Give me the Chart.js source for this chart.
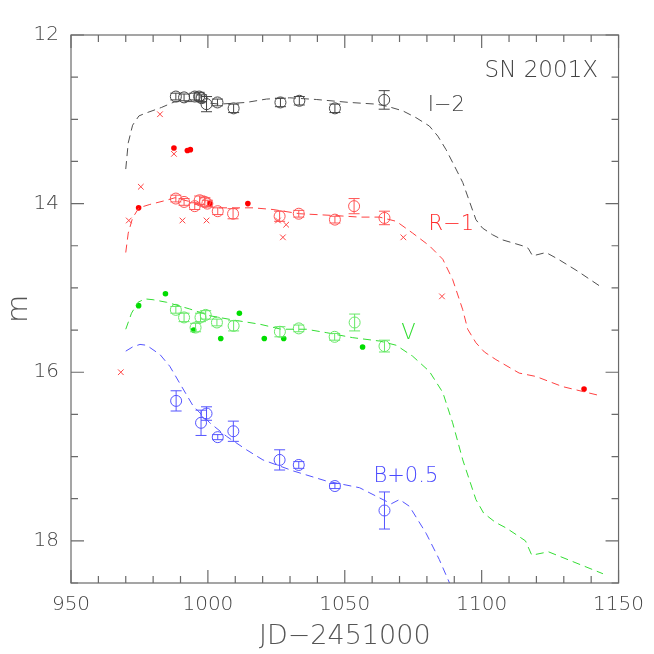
<!DOCTYPE html>
<html lang="en">
<head>
<meta charset="UTF-8">
<title>SN 2001X light curves</title>
<script src="https://cdn.jsdelivr.net/npm/chart.js"></script>
<style>
  body { margin: 0; background: #fff; }
</style>
</head>
<body>
<canvas id="lc" width="654" height="654"></canvas>
<script>
// axis ticks
const xTicks = [950, 1000, 1050, 1100, 1150];
const yTicks = [12, 14, 16, 18];

// I band (I-2), open circles with errors
const iJd  = [988.3, 991.3, 995.2, 996.8, 997.7, 999.5, 1003.5, 1009.4, 1026.5, 1033.4, 1046.4, 1064.4];
const iMag = [12.73, 12.74, 12.73, 12.73, 12.75, 12.82, 12.80, 12.87, 12.80, 12.78, 12.87, 12.77];
const iErr = [0.04, 0.04, 0.04, 0.05, 0.04, 0.09, 0.04, 0.05, 0.05, 0.05, 0.05, 0.11];

// R band (R-1)
const rJd  = [988.3, 991.3, 995.2, 997.0, 998.9, 999.8, 1003.6, 1009.2, 1026.2, 1033.2, 1046.4, 1053.4, 1064.5];
const rMag = [13.94, 13.98, 14.03, 13.96, 13.98, 14.00, 14.09, 14.12, 14.15, 14.12, 14.19, 14.03, 14.17];
const rErr = [0.04, 0.04, 0.04, 0.05, 0.05, 0.04, 0.04, 0.06, 0.06, 0.04, 0.04, 0.09, 0.08];
const rDotJd  = [974.7, 987.6, 992.5, 993.6, 1000.7, 1014.6, 1137.4];
const rDotMag = [14.05, 13.34, 13.37, 13.36, 14.00, 14.00, 16.20];
const rCrossJd  = [968.2, 971.1, 975.5, 982.5, 987.6, 990.7, 999.5, 1025.6, 1027.4, 1028.6, 1071.4, 1085.5];
const rCrossMag = [16.00, 14.20, 13.80, 12.94, 13.41, 14.20, 14.20, 14.20, 14.40, 14.25, 14.40, 15.10];

// V band
const vJd  = [988.3, 991.3, 995.5, 997.3, 999.2, 1003.3, 1009.4, 1026.3, 1033.2, 1046.3, 1053.6, 1064.5];
const vMag = [15.26, 15.35, 15.47, 15.35, 15.32, 15.41, 15.45, 15.52, 15.48, 15.58, 15.41, 15.69];
const vErr = [0.04, 0.05, 0.05, 0.05, 0.05, 0.04, 0.06, 0.06, 0.04, 0.04, 0.10, 0.07];
const vDotJd  = [974.7, 984.5, 994.8, 1004.7, 1011.5, 1020.6, 1027.7, 1056.5];
const vDotMag = [15.21, 15.07, 15.50, 15.60, 15.30, 15.60, 15.60, 15.70];

// B band (B+0.5)
const bJd  = [988.4, 997.5, 999.5, 1003.6, 1009.3, 1026.2, 1033.2, 1046.4, 1064.5];
const bMag = [16.34, 16.60, 16.49, 16.77, 16.70, 17.04, 17.10, 17.35, 17.64];
const bErr = [0.12, 0.15, 0.08, 0.03, 0.12, 0.12, 0.04, 0.03, 0.22];

// template curves (dashed)
const iCurveJd  = [970, 970.9, 972.5, 974.8, 977, 979.6, 983, 988, 995, 1004.3, 1014, 1021.4, 1029.9, 1039.6, 1051.7, 1061.5, 1066, 1071.2, 1076, 1080.9, 1084, 1087, 1090, 1093.1, 1095.5, 1097.9, 1100.3, 1104, 1107.6, 1114.9, 1117, 1118.6, 1123.5, 1128, 1135, 1143.7];
const iCurveMag = [13.59, 13.28, 13.07, 12.96, 12.93, 12.90, 12.86, 12.79, 12.79, 12.82, 12.80, 12.76, 12.745, 12.765, 12.80, 12.82, 12.85, 12.90, 12.98, 13.08, 13.20, 13.36, 13.55, 13.75, 13.97, 14.19, 14.29, 14.37, 14.43, 14.50, 14.53, 14.62, 14.58, 14.66, 14.80, 14.99];
const rCurveJd  = [970, 970.9, 972.5, 974.8, 978.8, 984.9, 988, 995, 1003.1, 1016.5, 1023.8, 1033.5, 1045.5, 1055.4, 1062.7, 1068.8, 1074.8, 1080.9, 1085.8, 1089.4, 1093.1, 1094.9, 1097.9, 1101, 1105.2, 1113.7, 1119.8, 1129.5, 1143.5];
const rCurveMag = [14.58, 14.35, 14.17, 14.05, 14.01, 13.96, 13.93, 13.99, 14.05, 14.05, 14.07, 14.12, 14.14, 14.16, 14.16, 14.21, 14.35, 14.50, 14.66, 14.90, 15.26, 15.49, 15.65, 15.76, 15.85, 16.01, 16.05, 16.17, 16.28];
const vCurveJd  = [970, 972.1, 974.5, 977, 980, 984.9, 993.4, 1000.7, 1009.2, 1018.9, 1026.8, 1035.9, 1043.2, 1052.9, 1062.7, 1068.8, 1074.8, 1080.9, 1085.8, 1089.4, 1093.1, 1097.9, 1100.7, 1105, 1109.1, 1116, 1118.3, 1124.4, 1144.3];
const vCurveMag = [15.49, 15.30, 15.17, 15.13, 15.14, 15.17, 15.25, 15.33, 15.38, 15.43, 15.49, 15.49, 15.53, 15.59, 15.63, 15.68, 15.81, 15.99, 16.24, 16.60, 17.04, 17.51, 17.67, 17.78, 17.85, 18.00, 18.17, 18.13, 18.39];
const bCurveJd  = [970, 972.5, 975.2, 977.6, 982.5, 986.1, 989.7, 994.6, 1000.7, 1006.8, 1014.1, 1020.1, 1031.1, 1043.2, 1055.4, 1065.1, 1067, 1070, 1073.6, 1079.7, 1084.5, 1088.8];
const bCurveMag = [15.75, 15.70, 15.67, 15.68, 15.79, 15.93, 16.13, 16.40, 16.60, 16.76, 16.92, 17.04, 17.17, 17.29, 17.37, 17.53, 17.56, 17.51, 17.59, 17.91, 18.22, 18.54];

// text labels in data coordinates
const bandLabels   = ['I\u22122', 'R\u22121', 'V', 'B+0.5'];
const bandLabelJd  = [1080.3, 1080.6, 1070.6, 1060.5];
const bandLabelMag = [12.90, 14.31, 15.60, 17.30];
const bandColors   = ['#444444', '#ff2a2a', '#2fdd2f', '#4a4aff'];
const objectName = 'SN 2001X';

const FONT = 'DejaVu Sans';
const pts = (xs, ys) => xs.map((x, k) => ({x: x, y: ys[k]}));

function curve(xs, ys, color) {
  return {
    type: 'line', data: pts(xs, ys), borderColor: color, borderWidth: 1,
    borderDash: [8, 5], pointRadius: 0, fill: false, tension: 0
  };
}
function circles(xs, ys, color, errs) {
  return {
    data: pts(xs, ys), pointStyle: 'circle', pointRadius: 5.5, borderWidth: 1,
    borderColor: color, backgroundColor: 'rgba(0,0,0,0)', errs: errs
  };
}
function dots(xs, ys, color) {
  return {data: pts(xs, ys), pointStyle: 'circle', pointRadius: 2.8, borderWidth: 0, backgroundColor: color};
}
function crosses(xs, ys, color) {
  return {data: pts(xs, ys), pointStyle: 'crossRot', pointRadius: 4, borderWidth: 1, borderColor: color};
}

const decorations = {
  id: 'decorations',
  afterDatasetsDraw(chart) {
    const ctx = chart.ctx;
    const xs = chart.scales.x, ys = chart.scales.y;
    const a = chart.chartArea;
    ctx.save();
    // error bars
    chart.data.datasets.forEach(ds => {
      if (!ds.errs) return;
      ctx.strokeStyle = ds.borderColor;
      ctx.lineWidth = 1;
      ds.data.forEach((p, k) => {
        const px = xs.getPixelForValue(p.x);
        const y1 = ys.getPixelForValue(p.y - ds.errs[k]);
        const y2 = ys.getPixelForValue(p.y + ds.errs[k]);
        ctx.beginPath();
        ctx.moveTo(px, y1); ctx.lineTo(px, y2);
        ctx.moveTo(px - 5.5, y1); ctx.lineTo(px + 5.5, y1);
        ctx.moveTo(px - 5.5, y2); ctx.lineTo(px + 5.5, y2);
        ctx.stroke();
      });
    });
    // frame and inward ticks
    ctx.strokeStyle = '#6a6a6a';
    ctx.lineWidth = 1.2;
    ctx.strokeRect(a.left, a.top, a.right - a.left, a.bottom - a.top);
    ctx.beginPath();
    for (let v = xs.min; v <= xs.max + 1e-6; v += 10) {
      const px = xs.getPixelForValue(v);
      const len = v % 50 === 0 ? 13 : 7;
      ctx.moveTo(px, a.bottom); ctx.lineTo(px, a.bottom - len);
      ctx.moveTo(px, a.top); ctx.lineTo(px, a.top + len);
    }
    for (let v = 12; v <= ys.max + 1e-6; v += 0.5) {
      const py = ys.getPixelForValue(v);
      const len = v % 2 === 0 ? 13 : 7;
      ctx.moveTo(a.left, py); ctx.lineTo(a.left + len, py);
      ctx.moveTo(a.right, py); ctx.lineTo(a.right - len, py);
    }
    ctx.stroke();
    // labels
    ctx.textBaseline = 'alphabetic';
    ctx.font = '200 21px "' + FONT + '"';
    bandLabels.forEach((t, k) => {
      ctx.fillStyle = bandColors[k];
      ctx.textAlign = 'left';
      ctx.fillText(t, xs.getPixelForValue(bandLabelJd[k]), ys.getPixelForValue(bandLabelMag[k]));
    });
    ctx.font = '200 23px "' + FONT + '"';
    ctx.fillStyle = '#444444';
    ctx.textAlign = 'right';
    ctx.fillText(objectName, xs.getPixelForValue(1142.5), ys.getPixelForValue(12.50));
    ctx.restore();
  }
};

new Chart(document.getElementById('lc'), {
  type: 'scatter',
  data: {
    datasets: [
      curve(iCurveJd, iCurveMag, '#505050'),
      curve(rCurveJd, rCurveMag, '#ff4040'),
      curve(vCurveJd, vCurveMag, '#33dd33'),
      curve(bCurveJd, bCurveMag, '#5555ff'),
      circles(iJd, iMag, '#444444', iErr),
      circles(rJd, rMag, '#ff5555', rErr),
      circles(vJd, vMag, '#66e866', vErr),
      circles(bJd, bMag, '#5555ff', bErr),
      dots(rDotJd, rDotMag, '#ff0000'),
      crosses(rCrossJd, rCrossMag, '#ff4444'),
      dots(vDotJd, vDotMag, '#00dd00')
    ]
  },
  options: {
    responsive: false,
    animation: false,
    devicePixelRatio: 1,
    layout: {padding: {top: 35, right: 34, left: 0, bottom: 0}},
    plugins: {legend: {display: false}, tooltip: {enabled: false}},
    scales: {
      x: {
        type: 'linear', min: 950, max: 1150,
        afterBuildTicks: s => { s.ticks = xTicks.map(v => ({value: v})); },
        afterFit: s => { s.height = 71; },
        grid: {display: false, drawTicks: false},
        border: {display: false},
        ticks: {font: {family: FONT, size: 20, weight: 200}, color: '#444', padding: 10, maxRotation: 0, autoSkip: false,
                callback: v => String(v)},
        title: {display: true, text: 'JD\u22122451000', font: {family: FONT, size: 27, weight: 200}, color: '#555', padding: {top: 0, bottom: 1}}
      },
      y: {
        type: 'linear', min: 12, max: 18.5, reverse: true,
        afterBuildTicks: s => { s.ticks = yTicks.map(v => ({value: v})); },
        afterFit: s => { s.width = 71; },
        grid: {display: false, drawTicks: false},
        border: {display: false},
        ticks: {font: {family: FONT, size: 20, weight: 200}, color: '#444', padding: 12, autoSkip: false,
                callback: v => String(v)},
        title: {display: true, text: 'm', font: {family: FONT, size: 29, weight: 200}, color: '#555', padding: {top: 2, bottom: 0}}
      }
    }
  },
  plugins: [decorations]
});
</script>
</body>
</html>
